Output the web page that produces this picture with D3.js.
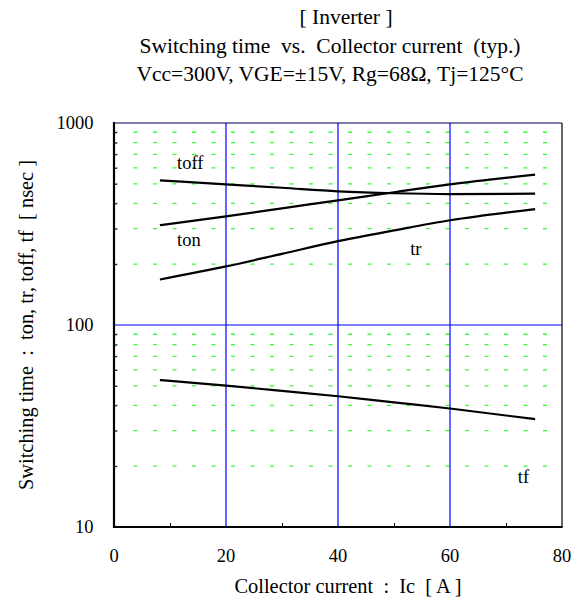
<!DOCTYPE html>
<html><head><meta charset="utf-8">
<script src="https://cdn.jsdelivr.net/npm/d3@7"></script>
<style>body{margin:0;background:#fff}svg{display:block}text{font-family:"Liberation Serif","Times New Roman",serif;fill:#000;white-space:pre}</style>
</head><body>
<svg id="c" width="579" height="603"></svg>
<script>
const titles = ["[ Inverter ]", "Switching time  vs.  Collector current  (typ.)", "Vcc=300V, VGE=\u00B115V, Rg=68\u03A9, Tj=125\u00B0C"];
const xLabel = "Collector current  :  Ic  [ A ]";
const yLabel = "Switching time  :  ton, tr, toff, tf  [ nsec ]";
const xTicks = [0, 20, 40, 60, 80];
const yTicks = [10, 100, 1000];
const ic = [8.2, 20, 30, 40, 50, 60, 75.2];
const toff = [520, 497, 478, 459, 449, 445, 447];
const ton = [312, 345, 378, 414, 454, 497, 555];
const tr = [168, 195, 225, 260, 294, 330, 375];
const tf = [53.4, 50.1, 47.2, 44.4, 41.4, 38.6, 34.2];
const seriesNames = ["toff", "ton", "tr", "tf"];
const labelAt = [[11.25, 591], [11.25, 246], [52.9, 222], [72.1, 16.6]];

const svg = d3.select("#c");
const L = 114, R = 562, T = 123, B = 527;
const x = d3.scaleLinear().domain([0, 80]).range([L, R]);
const y = d3.scaleLog().domain([10, 1000]).range([B, T]);

// titles
titles.forEach((t, i) => svg.append("text").attr("x", i === 0 ? 346 : 330).attr("y", 24 + i * 28.5)
  .attr("text-anchor", "middle").attr("font-size", 21.5).text(t));

// green minor grid
const minors = [];
[10, 100].forEach(d => { for (let k = 2; k <= 9; k++) minors.push(d * k); });
svg.append("g").selectAll("line").data(minors).join("line")
  .attr("x1", x(0)).attr("x2", x(78.5)).attr("y1", d => y(d)).attr("y2", d => y(d))
  .attr("stroke", "#33ff33").attr("stroke-width", 1.3).attr("stroke-dasharray", "4,15.5");

// blue major grid
svg.append("g").selectAll("line").data([20, 40, 60]).join("line")
  .attr("x1", d => x(d)).attr("x2", d => x(d)).attr("y1", T).attr("y2", B)
  .attr("stroke", "#0000ff").attr("stroke-width", 1.2);
svg.append("line").attr("x1", L).attr("x2", R).attr("y1", y(100)).attr("y2", y(100))
  .attr("stroke", "#0000ff").attr("stroke-width", 1.2);

// frame
svg.append("line").attr("x1", L).attr("x2", R).attr("y1", T).attr("y2", T).attr("stroke", "#000066").attr("stroke-width", 1.2);
svg.append("line").attr("x1", R).attr("x2", R).attr("y1", T).attr("y2", B).attr("stroke", "#000").attr("stroke-width", 1.2);

// axes
const yAxis = d3.axisLeft(y).tickValues(minors).tickSize(-3).tickFormat("");
svg.append("g").attr("transform", `translate(${L},0)`).call(yAxis)
  .call(g => g.select(".domain").remove())
  .call(g => g.selectAll("line").attr("stroke", "#000").attr("stroke-width", 1));
svg.append("g").selectAll("text").data(yTicks).join("text")
  .attr("x", 93.5).attr("y", d => y(d) + 6).attr("text-anchor", "end").attr("font-size", 18.5).text(d => d);
const xAxis = d3.axisBottom(x).tickValues([10, 30, 50, 70]).tickSize(-4).tickFormat("");
svg.append("g").attr("transform", `translate(0,${B})`).call(xAxis)
  .call(g => g.select(".domain").remove())
  .call(g => g.selectAll("line").attr("stroke", "#000").attr("stroke-width", 1));
svg.append("g").selectAll("text").data(xTicks).join("text")
  .attr("x", d => x(d)).attr("y", 562).attr("text-anchor", "middle").attr("font-size", 18.5).text(d => d);
svg.append("line").attr("x1", L).attr("x2", L).attr("y1", T - 1).attr("y2", B + 1).attr("stroke", "#000").attr("stroke-width", 2.2);
svg.append("line").attr("x1", L - 1).attr("x2", R + 0.6).attr("y1", B).attr("y2", B).attr("stroke", "#000").attr("stroke-width", 2.2);

// axis labels
svg.append("text").attr("x", 348).attr("y", 593).attr("text-anchor", "middle").attr("font-size", 20.4).text(xLabel);
svg.append("text").attr("transform", `translate(33,${(T + B) / 2}) rotate(-90)`)
  .attr("text-anchor", "middle").attr("font-size", 20.4).text(yLabel);

// curves
const line = d3.line().x((d, i) => x(ic[i])).y(d => y(d)).curve(d3.curveMonotoneX);
[toff, ton, tr, tf].forEach(s => svg.append("path").attr("d", line(s))
  .attr("fill", "none").attr("stroke", "#000").attr("stroke-width", 2.2));

// labels
seriesNames.forEach((n, i) => svg.append("text").attr("x", x(labelAt[i][0])).attr("y", y(labelAt[i][1]))
  .attr("font-size", 18.5).text(n));
</script>
</body></html>
